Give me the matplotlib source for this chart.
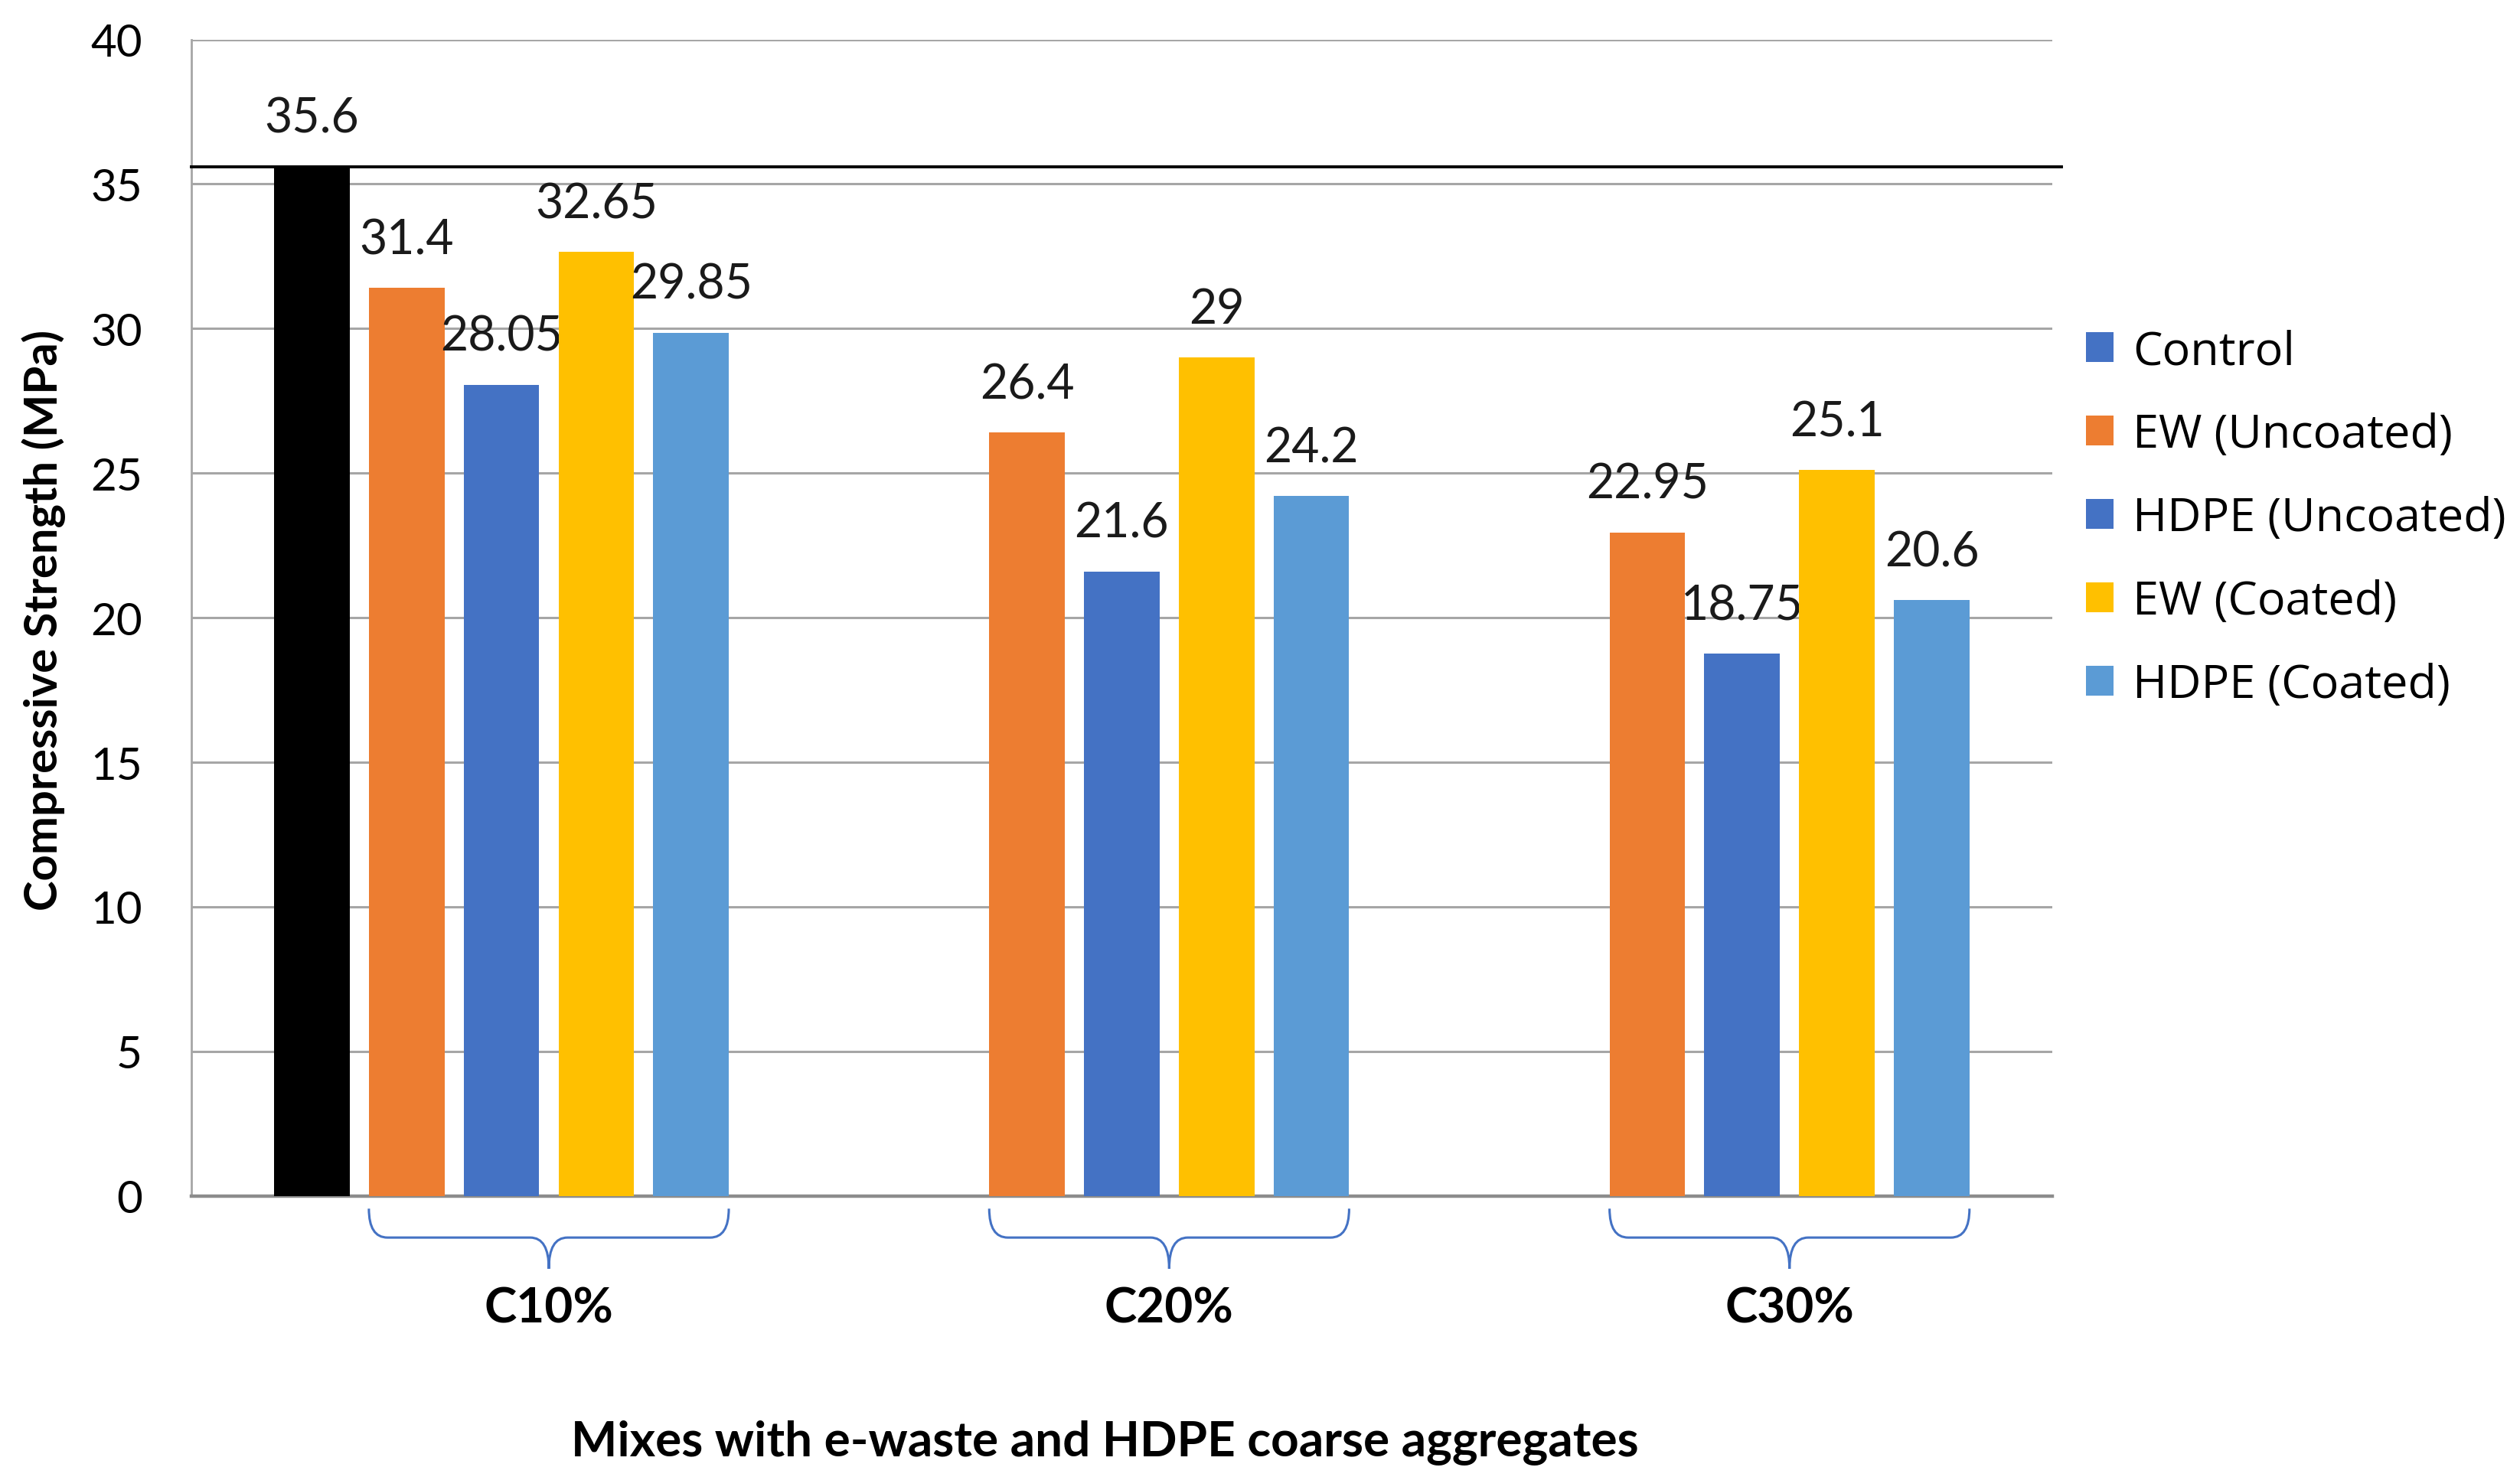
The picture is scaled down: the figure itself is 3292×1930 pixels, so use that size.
import numpy as np
import matplotlib
matplotlib.use("Agg")
import matplotlib.pyplot as plt
from matplotlib.path import Path
from matplotlib.patches import PathPatch, Patch
from matplotlib.transforms import blended_transform_factory

# data
categories = ["C10%", "C20%", "C30%"]
series_names = ["Control", "EW (Uncoated)", "HDPE (Uncoated)", "EW (Coated)", "HDPE (Coated)"]
control = [35.6, np.nan, np.nan]
ew_uncoated = [31.4, 26.4, 22.95]
hdpe_uncoated = [28.05, 21.6, 18.75]
ew_coated = [32.65, 29.0, 25.1]
hdpe_coated = [29.85, 24.2, 20.6]
y_ticks = [0, 5, 10, 15, 20, 25, 30, 35, 40]

bar_colors = ["#000000", "#ED7D31", "#4472C4", "#FFC000", "#5B9BD5"]
legend_colors = ["#4472C4", "#ED7D31", "#4472C4", "#FFC000", "#5B9BD5"]

TXT = ["Lato", "DejaVu Sans"]
LEG = ["Open Sans", "DejaVu Sans"]


def draw_brace(ax, x0, x1, color, y_top=-0.011, y_mid=-0.036, y_tip=-0.063, r=0.03):
    # curly bracket under a group, x in data, y in axes fraction
    xm = (x0 + x1) / 2
    verts = [(x0, y_top), (x0, y_mid), (x0 + r, y_mid), (xm - r, y_mid), (xm, y_mid), (xm, y_tip),
             (x1, y_top), (x1, y_mid), (x1 - r, y_mid), (xm + r, y_mid), (xm, y_mid), (xm, y_tip)]
    codes = [Path.MOVETO, Path.CURVE3, Path.CURVE3, Path.LINETO, Path.CURVE3, Path.CURVE3] * 2
    trans = blended_transform_factory(ax.transData, ax.transAxes)
    ax.add_patch(PathPatch(Path(verts, codes), fill=False, edgecolor=color, lw=1.1,
                           transform=trans, clip_on=False))


fig = plt.figure(figsize=(16.46, 9.655), dpi=200)
ax = fig.add_axes([0.0759, 0.1902, 0.7385, 0.7826])

series = [control, ew_uncoated, hdpe_uncoated, ew_coated, hdpe_coated]
x = np.arange(len(categories))
slot = 0.1528
bar_w = 0.1218

for j, (vals, col) in enumerate(zip(series, bar_colors)):
    xs = x + (j - 2) * slot
    ax.bar(xs, vals, width=bar_w, color=col, zorder=3)
    for xi, v in zip(xs, vals):
        if np.isnan(v):
            continue
        ax.annotate(f"{v:g}", (xi, v), xytext=(0, 22.7), textcoords="offset points",
                    ha="center", va="center", fontsize=22.5, family=TXT, color="#1a1a1a")

# control reference line
ax.axhline(control[0], xmin=0, xmax=1.005, color="black", lw=1.4, zorder=4, clip_on=False)

ax.set_xlim(-0.5, len(categories) - 0.5)
ax.set_ylim(0, 40)
ax.set_yticks(y_ticks)
ax.set_yticklabels([str(t) for t in y_ticks], fontsize=21, family=TXT)
ax.tick_params(axis="y", length=0, pad=23)
ax.set_xticks([])
ax.yaxis.grid(True, color="#A6A6A6", lw=1.1, zorder=0)
for s in ["top", "right"]:
    ax.spines[s].set_visible(False)
ax.spines["left"].set_color("#A6A6A6")
ax.spines["left"].set_linewidth(1.0)
ax.spines["bottom"].set_color("#8C8C8C")
ax.spines["bottom"].set_linewidth(1.6)

# braces and group labels
trans = blended_transform_factory(ax.transData, ax.transAxes)
for i, cat in enumerate(categories):
    x0 = i - slot - bar_w / 2
    x1 = i + 2 * slot + bar_w / 2
    draw_brace(ax, x0, x1, "#4472C4")
    ax.text((x0 + x1) / 2, -0.097, cat, transform=trans, ha="center", va="center",
            fontsize=23, fontweight="bold", family=TXT)

ax.text(0.491, -0.2125, "Mixes with e-waste and HDPE coarse aggregates", transform=ax.transAxes,
        ha="center", va="center", fontsize=23, fontweight="bold", family=TXT)
ax.text(-0.0794, 0.4986, "Compressive Strength (MPa)", transform=ax.transAxes, rotation=90,
        ha="center", va="center", fontsize=21.5, fontweight="bold", family=TXT)

handles = [Patch(facecolor=c, edgecolor="none") for c in legend_colors]
ax.legend(handles, series_names, loc="center left", bbox_to_anchor=(1.018, 0.586), frameon=False,
          prop={"family": LEG, "size": 22}, handlelength=0.6, handleheight=0.6,
          handletextpad=0.4, labelspacing=0.8, borderpad=0, borderaxespad=0)

fig.savefig("out.png", dpi=200, facecolor="white")
